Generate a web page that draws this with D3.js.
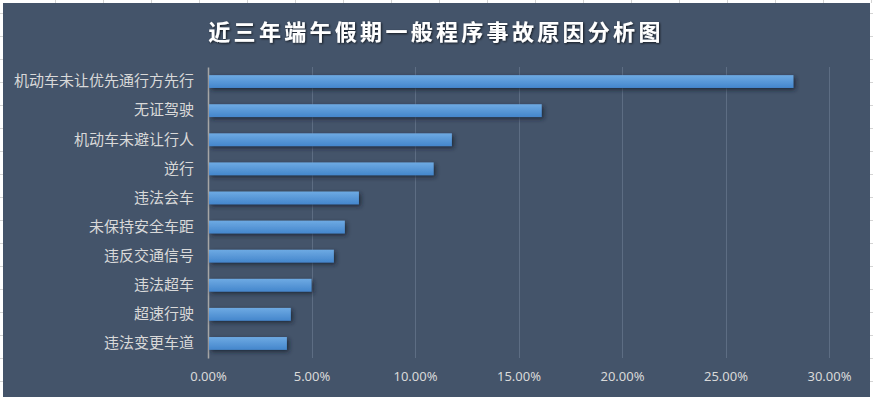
<!DOCTYPE html>
<html>
<head>
<meta charset="utf-8">
<script src="https://cdn.jsdelivr.net/npm/d3@7"></script>
<style>
  body { margin: 0; background: #fff; }
  svg { display: block; }
</style>
</head>
<body>
<div id="chart"></div>
<script>

// chart data
var title = "近三年端午假期一般程序事故原因分析图";
var categories = ["机动车未让优先通行方先行", "无证驾驶", "机动车未避让行人", "逆行", "违法会车",
  "未保持安全车距", "违反交通信号", "违法超车", "超速行驶", "违法变更车道"];
var shares = [0.2828, 0.1612, 0.1178, 0.109, 0.0729, 0.0661, 0.0608, 0.05, 0.04, 0.0381];
var xTicks = [0, 0.05, 0.10, 0.15, 0.20, 0.25, 0.30];

var W = 873, H = 397;
var margin = { top: 67, right: 43, bottom: 39, left: 208 },
  width = W - margin.left - margin.right,
  height = H - margin.top - margin.bottom;

var root = d3.select("#chart")
  .append("svg")
  .attr("width", W)
  .attr("height", H);

// excel sheet lines around the chart
var sheet = root.append("g").attr("stroke", "#d4d4d4").attr("stroke-width", 1);
for (var gx = 55; gx < W; gx += 48) {
  sheet.append("line").attr("x1", gx + 0.5).attr("x2", gx + 0.5).attr("y1", 0).attr("y2", 3);
}
for (var gy = 13; gy < H; gy += 23) {
  sheet.append("line").attr("x1", 0).attr("x2", 3).attr("y1", gy + 0.5).attr("y2", gy + 0.5);
  sheet.append("line").attr("x1", 870).attr("x2", W).attr("y1", gy + 0.5).attr("y2", gy + 0.5);
}

// chart background
root.append("rect")
  .attr("x", 3).attr("y", 3)
  .attr("width", 867).attr("height", H - 3)
  .attr("fill", "#44546a");

var defs = root.append("defs");
var grad = defs.append("linearGradient")
  .attr("id", "barGrad")
  .attr("x1", 0).attr("y1", 0).attr("x2", 0).attr("y2", 1);
grad.append("stop").attr("offset", "0%").attr("stop-color", "#6eaae3");
grad.append("stop").attr("offset", "100%").attr("stop-color", "#4486cc");

var shadow = defs.append("filter").attr("id", "barShadow")
  .attr("x", "-5%").attr("y", "-50%").attr("width", "115%").attr("height", "250%");
shadow.append("feDropShadow")
  .attr("dx", 2).attr("dy", 2).attr("stdDeviation", 2)
  .attr("flood-color", "#1c2431").attr("flood-opacity", 0.8);

var titleShadow = defs.append("filter").attr("id", "titleShadow");
titleShadow.append("feDropShadow")
  .attr("dx", 1).attr("dy", 1).attr("stdDeviation", 0.8)
  .attr("flood-color", "#000").attr("flood-opacity", 0.7);

// title
root.append("text")
  .attr("x", 436)
  .attr("y", 40)
  .attr("text-anchor", "middle")
  .attr("fill", "#ffffff")
  .attr("font-family", "'Noto Sans CJK SC', sans-serif")
  .attr("font-weight", "bold")
  .attr("font-size", "22px")
  .attr("letter-spacing", "3.3px")
  .attr("filter", "url(#titleShadow)")
  .text(title);

var svg = root.append("g")
  .attr("transform", "translate(" + margin.left + "," + margin.top + ")");

var x = d3.scaleLinear()
  .domain([0, 0.30])
  .range([0, 621]);

var y = d3.scaleBand()
  .domain(categories)
  .range([0, height])
  .paddingInner(0.56)
  .paddingOuter(0.28);

// gridlines
svg.append("g")
  .selectAll("line")
  .data(xTicks.slice(1))
  .enter()
  .append("line")
  .attr("x1", function (d) { return Math.round(x(d)) + 0.5; })
  .attr("x2", function (d) { return Math.round(x(d)) + 0.5; })
  .attr("y1", 0)
  .attr("y2", height)
  .attr("stroke", "#5d6d83")
  .attr("stroke-width", 1);

// x axis labels
var xAxis = svg.append("g")
  .attr("transform", "translate(0," + height + ")")
  .call(d3.axisBottom(x).tickValues(xTicks).tickFormat(d3.format(".2%")).tickSize(0).tickPadding(14));
xAxis.select(".domain").remove();
xAxis.selectAll("text")
  .attr("fill", "#d9d9d9")
  .attr("font-family", "'Noto Sans', 'DejaVu Sans', sans-serif")
  .attr("font-size", "13px");

// y axis
var yAxis = svg.append("g")
  .call(d3.axisLeft(y).tickSize(0).tickPadding(14));
yAxis.select(".domain")
  .attr("stroke", "#a6a6a6")
  .attr("stroke-width", 1.5);
yAxis.selectAll("text")
  .attr("fill", "#d9d9d9")
  .attr("font-family", "'Noto Sans CJK SC', sans-serif")
  .attr("font-size", "15px");

// bars
svg.append("g")
  .selectAll("rect")
  .data(shares)
  .enter()
  .append("rect")
  .attr("x", x(0) + 1)
  .attr("y", function (d, i) { return y(categories[i]); })
  .attr("width", function (d) { return x(d) - 1; })
  .attr("height", y.bandwidth())
  .attr("fill", "url(#barGrad)")
  .attr("filter", "url(#barShadow)");

</script>
</body>
</html>
